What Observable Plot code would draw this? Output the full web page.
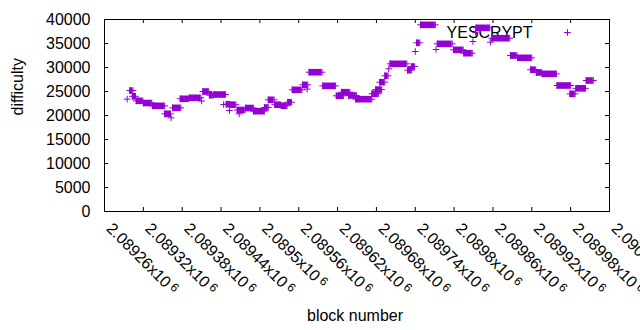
<!DOCTYPE html>
<html><head><meta charset="utf-8">
<script src="https://cdn.jsdelivr.net/npm/d3@7"></script>
<script src="https://cdn.jsdelivr.net/npm/@observablehq/plot@0.6"></script>
<style>
html,body{margin:0;padding:0;background:#fff;}
#chart svg{display:block;}
</style>
</head><body><div id="chart"></div>
<script>
const seriesName = "YESCRYPT";
const xLabel = "block number";
const yLabel = "difficulty";

// plateaus of equal difficulty (first block, last block, difficulty)
const segStart = [2089299,2089303,2089309,2089320,2089334,2089353,2089365,2089377,2089391,2089412,2089422,2089429,2089448,2089455,2089465,2089478,2089490,2089507,2089513,2089523,2089533,2089543,2089550,2089566,2089576,2089597,2089618,2089626,2089637,2089648,2089673,2089679,2089685,2089693,2089701,2089728,2089734,2089742,2089748,2089774,2089799,2089815,2089834,2089858,2089887,2089898,2089918,2089927,2089936,2089959,2089979,2089988,2090004];
const segEnd   = [2089304,2089308,2089319,2089333,2089353,2089362,2089378,2089390,2089409,2089421,2089428,2089447,2089453,2089463,2089477,2089490,2089507,2089513,2089522,2089532,2089542,2089549,2089565,2089574,2089596,2089617,2089629,2089639,2089649,2089673,2089683,2089688,2089693,2089698,2089727,2089734,2089739,2089747,2089771,2089797,2089814,2089828,2089855,2089886,2089897,2089920,2089926,2089935,2089958,2089980,2089987,2090003,2090015];
const segValue = [25200,24000,23060,22600,22020,20350,21600,23480,23690,25000,24230,24370,22350,22250,21150,21560,20900,21670,23270,22250,22020,22770,25350,26390,29020,26180,24100,24860,24170,23400,24540,25400,26940,28270,30770,29440,30200,35140,38890,34930,33680,32980,38270,36100,32500,32020,29540,28960,28680,26250,24510,25660,27290];

// isolated points
const singleBlock = [2089295,2089363,2089410,2089444,2089453,2089468,2089573,2089699,2089740,2089772,2089829,2089833,2089856];
const singleValue = [23400,19500,23000,22300,21040,20350,25500,29730,33330,33750,35420,37350,35270];

const xTicks = [2089260,2089320,2089380,2089440,2089500,2089560,2089620,2089680,2089740,2089800,2089860,2089920,2089980,2090040];
const xTickMantissa = ["2.08926","2.08932","2.08938","2.08944","2.0895","2.08956","2.08962","2.08968","2.08974","2.0898","2.08986","2.08992","2.08998","2.09004"];
const yTicks = [0,5000,10000,15000,20000,25000,30000,35000,40000];

const color = "#9400d3";
const segments = segStart.map((s,i)=>({start:s,end:segEnd[i],value:segValue[i]}));
const endpoints = segments.flatMap(d=>[{block:d.start,value:d.value},{block:d.end,value:d.value}]);
const singles = singleBlock.map((b,i)=>({block:b,value:singleValue[i]}));
const points = endpoints.concat(singles);

const plusSymbol = {draw(ctx, size){const r=Math.sqrt(size/Math.PI); ctx.moveTo(-r,0); ctx.lineTo(r,0); ctx.moveTo(0,-r); ctx.lineTo(0,r);}};

const W=640,H=330, mL=104, mR=31, mT=19, mB=119;
const innerW = W-mL-mR, innerH = H-mT-mB, tick=4;

const chart = Plot.plot({
  width:W, height:H, marginLeft:mL, marginRight:mR, marginTop:mT, marginBottom:mB,
  style:{fontFamily:"'Liberation Sans', Arial, sans-serif", fontSize:"16px", color:"#000", background:"#fff"},
  x:{domain:[xTicks[0], xTicks[xTicks.length-1]], axis:null},
  y:{domain:[yTicks[0], yTicks[yTicks.length-1]], axis:null},
  marks:[
    Plot.frame({stroke:"#000"}),
    Plot.ruleX(xTicks,{x:d=>d, insetTop: innerH-tick, stroke:"#000"}),
    Plot.ruleX(xTicks,{x:d=>d, insetBottom: innerH-tick, stroke:"#000"}),
    Plot.ruleY(yTicks,{y:d=>d, insetRight: innerW-tick, stroke:"#000"}),
    Plot.ruleY(yTicks,{y:d=>d, insetLeft: innerW-tick, stroke:"#000"}),
    Plot.axisY(yTicks, {tickSize:0, tickPadding:14, tickFormat:d3.format("d"), label:null, fontSize:16}),
    Plot.text(xTicks, {x:d=>d, text:(d,i)=>xTickMantissa[i]+"x10", frameAnchor:"bottom", lineAnchor:"bottom", rotate:45, textAnchor:"start", dx:1, dy:18, fill:"#000", ariaDescription:"xticklabels"}),
    Plot.text([yLabel], {text:d=>d, frameAnchor:"left", lineAnchor:"middle", rotate:-90, dx:-87, fill:"#000"}),
    Plot.text([xLabel], {text:d=>d, frameAnchor:"bottom", lineAnchor:"middle", dy:104, dx:-2, fill:"#000"}),
    Plot.text([seriesName], {text:d=>d, frameAnchor:"top-right", lineAnchor:"middle", textAnchor:"end", dx:-77, dy:13, fill:"#000"}),
    Plot.dot([seriesName], {frameAnchor:"top-right", dx:-42, dy:13, r:3.3, symbol:plusSymbol, stroke:color, fill:"none", strokeWidth:1}),
    Plot.ruleY(segments, {x1:"start", x2:"end", y:"value", stroke:color, strokeWidth:6.6}),
    Plot.dot(points, {x:"block", y:"value", r:3.3, symbol:plusSymbol, stroke:color, fill:"none", strokeWidth:1})
  ]
});
d3.select(chart).selectAll('g[aria-description="xticklabels"] text').each(function(){
  d3.select(this).append("tspan").attr("dx", 3).attr("dy", -4).attr("font-size", 12).attr("fill", "#000").text("6");
});
document.getElementById("chart").appendChild(chart);
</script>
</body></html>
